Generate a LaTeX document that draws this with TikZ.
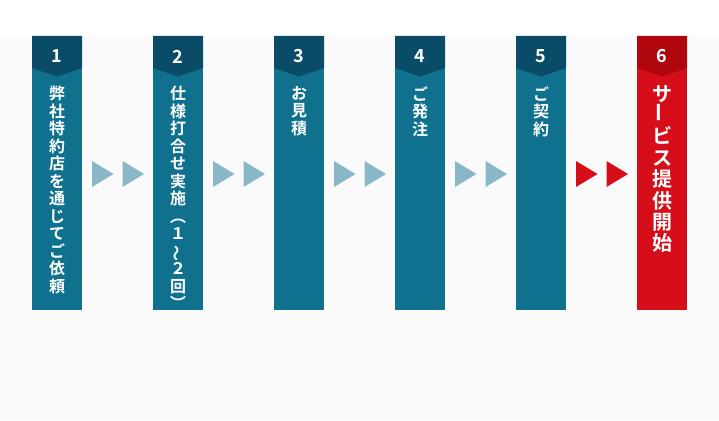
\documentclass[tikz,border=0pt]{standalone}
\usepackage{fontspec}
\newfontfamily\jp{Noto Sans CJK JP}[BoldFont={Noto Sans CJK JP Bold}]
\usepackage{graphicx}
\definecolor{headblue}{HTML}{0A4C68}
\definecolor{bodyblue}{HTML}{10718F}
\definecolor{paleblue}{HTML}{88B8C8}
\definecolor{headred}{HTML}{B0070F}
\definecolor{bodyred}{HTML}{D60E1A}
\definecolor{pagegray}{HTML}{FAFAFA}
\tikzset{
  column/.style={rectangle, inner sep=0pt, minimum width=50pt, minimum height=274pt},
  num/.style={text=white, font=\jp\bfseries\fontsize{18}{18}\selectfont, inner sep=0pt},
  steptext/.style={text=white, anchor=north, align=center, inner sep=0pt,
    font=\jp\bfseries\fontsize{16}{17.5}\selectfont},
  bigtext/.style={steptext, font=\jp\bfseries\fontsize{20}{21.4}\selectfont}
}
\newcommand{\upwave}{\rotatebox[origin=c]{90}{～}}
\newcommand{\upbar}{\rotatebox{90}{ー}}
\begin{document}
\begin{tikzpicture}[x=1pt,y=-1pt]
\useasboundingbox (0,0) rectangle (719,420);
\fill[white] (0,0) rectangle (719,36);
\fill[pagegray] (0,36) rectangle (719,420);

\node[column, fill=bodyblue] (col1) at (57,173) {};
\node[column, fill=bodyblue] (col2) at (178,173) {};
\node[column, fill=bodyblue] (col3) at (299,173) {};
\node[column, fill=bodyblue] (col4) at (420,173) {};
\node[column, fill=bodyblue] (col5) at (541,173) {};
\node[column, fill=bodyred] (col6) at (662,173) {};

\fill[headblue] (32,36) -- (82,36) -- (82,68) -- (57,76.5) -- (32,68) -- cycle;
\fill[headblue] (153,36) -- (203,36) -- (203,68) -- (178,76.5) -- (153,68) -- cycle;
\fill[headblue] (274,36) -- (324,36) -- (324,68) -- (299,76.5) -- (274,68) -- cycle;
\fill[headblue] (395,36) -- (445,36) -- (445,68) -- (420,76.5) -- (395,68) -- cycle;
\fill[headblue] (516,36) -- (566,36) -- (566,68) -- (541,76.5) -- (516,68) -- cycle;
\fill[headred] (637,36) -- (687,36) -- (687,68) -- (662,76.5) -- (637,68) -- cycle;

\node[num] (num1) at (57,56.5) {1};
\node[num] (num2) at (178,56.5) {2};
\node[num] (num3) at (299,56.5) {3};
\node[num] (num4) at (420,56.5) {4};
\node[num] (num5) at (541,56.5) {5};
\node[num] (num6) at (662,56.5) {6};

\node[steptext] (text1) at (57,86) {弊\\社\\特\\約\\店\\を\\通\\じ\\て\\ご\\依\\頼};
\node[steptext] (text2) at (178,86) {仕\\様\\打\\合\\せ\\実\\施\\︵\\１\\\upwave\\２\\回\\︶};
\node[steptext] (text3) at (299,86) {お\\見\\積};
\node[steptext] (text4) at (420,86) {ご\\発\\注};
\node[steptext] (text5) at (541,86) {ご\\契\\約};
\node[bigtext] (text6) at (662,85) {サ\\\upbar\\ビ\\ス\\提\\供\\開\\始};

% arrows between the steps
\fill[paleblue] (92,161) -- (113.5,174) -- (92,187) -- cycle;
\fill[paleblue] (122.5,161) -- (144,174) -- (122.5,187) -- cycle;
\fill[paleblue] (213,161) -- (234.5,174) -- (213,187) -- cycle;
\fill[paleblue] (243.5,161) -- (265,174) -- (243.5,187) -- cycle;
\fill[paleblue] (334,161) -- (355.5,174) -- (334,187) -- cycle;
\fill[paleblue] (364.5,161) -- (386,174) -- (364.5,187) -- cycle;
\fill[paleblue] (455,161) -- (476.5,174) -- (455,187) -- cycle;
\fill[paleblue] (485.5,161) -- (507,174) -- (485.5,187) -- cycle;
\fill[bodyred] (576,161) -- (597.5,174) -- (576,187) -- cycle;
\fill[bodyred] (606.5,161) -- (628,174) -- (606.5,187) -- cycle;
\end{tikzpicture}
\end{document}
